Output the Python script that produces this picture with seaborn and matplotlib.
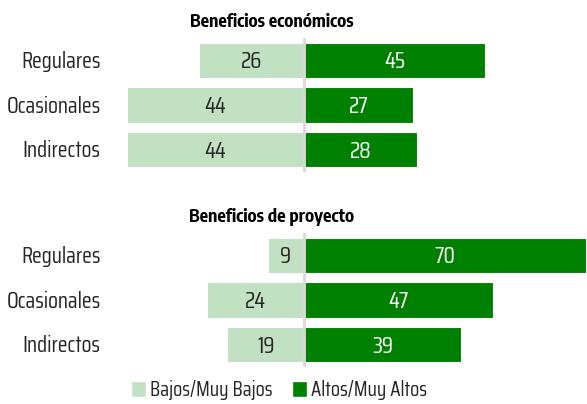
import os
import matplotlib
matplotlib.use("Agg")
import matplotlib.pyplot as plt
import matplotlib.font_manager as fm
import matplotlib.transforms as mtransforms
from matplotlib.textpath import TextPath
from matplotlib.patches import Patch
import seaborn as sns
import pandas as pd

categories = ["Regulares", "Ocasionales", "Indirectos"]
panel_titles = ["Beneficios económicos", "Beneficios de proyecto"]
series_names = ["Bajos/Muy Bajos", "Altos/Muy Altos"]
eco_low = [26, 44, 44]
eco_high = [45, 27, 28]
proj_low = [9, 24, 19]
proj_high = [70, 47, 39]

LIGHT = "#c2e0c2"
DARK = "#008000"

sns.set_theme(style="white")
plt.rcParams["font.family"] = ["DejaVu Sans"]


def is_condensed(f):
    b = os.path.basename(f.fname).lower()
    n = f.name.lower()
    return ("narrow" in n or "condensed" in n or "narrow" in b or "condensed" in b
            or str(f.stretch) in ("condensed", "semi-condensed", "extra-condensed"))


def wnum(w):
    try:
        return int(w)
    except Exception:
        return {"normal": 400, "regular": 400, "book": 400, "bold": 700}.get(str(w), 400)


def measure(fp, s):
    return TextPath((0, 0), s, size=1, prop=fp).get_extents().width


def cap(fp):
    return TextPath((0, 0), "H", size=1, prop=fp).get_extents().height


allf = [f for f in fm.fontManager.ttflist if f.style == "normal"
        and f.fname.lower().endswith((".ttf", ".otf"))]
cond = [f for f in allf if is_condensed(f)]


def pick(pool, text, ratio, wt):
    best = None
    for f in pool:
        try:
            fp = fm.FontProperties(fname=f.fname)
            r = measure(fp, text) / cap(fp)
        except Exception:
            continue
        score = abs(wnum(f.weight) - wt) / 100.0 * 1.5 + abs(r - ratio) / ratio * 4
        if best is None or score < best[0]:
            best = (score, f, fp)
    return best


b = pick([f for f in cond if 350 <= wnum(f.weight) <= 500], "Ocasionales", 92.0 / 15.5, 400)
if b is None:
    b = pick([f for f in allf if f.name == "DejaVu Sans"], "Ocasionales", 5.9, 400)
reg_fp = b[2]

bb = pick([f for f in cond if 600 <= wnum(f.weight) <= 800], "Beneficios económicos", 158.0 / 12.7, 700)
bold_fp = fm.FontProperties(family="DejaVu Sans", weight="bold") if bb is None else bb[2]


def blend_size(fp, text, width_px, cap_px, maxw=None):
    sw = width_px / measure(fp, text)
    sh = cap_px / cap(fp)
    s = (sw * sh) ** 0.5
    if maxw is not None:
        s = min(s, maxw / measure(fp, text))
    return s * 72 / 100.0


FS = blend_size(reg_fp, "Ocasionales", 92.0, 15.5, maxw=99.0)
NFS = blend_size(reg_fp, "70", 19.0, 16.0)
LFS = blend_size(reg_fp, "Bajos/Muy Bajos", 114.0, 15.0)
TFS = blend_size(bold_fp, "Beneficios económicos", 158.0, 13.5, maxw=172.0)


def tprops(bold=False, size=None):
    fp = (bold_fp if bold else reg_fp).copy()
    fp.set_size(size)
    return fp


NCAP_PX = cap(reg_fp) * NFS * 100 / 72.0
CAP_PX = cap(reg_fp) * FS * 100 / 72.0
TCAP_PX = cap(bold_fp) * TFS * 100 / 72.0

fig = plt.figure(figsize=(5.87, 4.04), dpi=100)
H = 404.0
axes = [fig.add_axes([0, 1 - 172 / H, 1, 134 / H]),
        fig.add_axes([0, 1 - 367 / H, 1, 134 / H])]
title_y = [20, 215]

panels = [(eco_low, eco_high), (proj_low, proj_high)]
for ax, title, ty, (low, high) in zip(axes, panel_titles, title_y, panels):
    df = pd.DataFrame({
        "cat": categories * 2,
        "val": [-v for v in low] + list(high),
        "series": [series_names[0]] * 3 + [series_names[1]] * 3,
    })
    sns.barplot(data=df, y="cat", x="val", hue="series", dodge=False,
                palette=[LIGHT, DARK], orient="h", width=0.79, ax=ax, saturation=1,
                edgecolor="white", linewidth=0.8, legend=False)
    ax.set_xlim(-304 / 4.03, 283 / 4.03)
    ax.set_ylim(2.5, -0.5)
    ax.axvline(0, color="#d9d9d9", lw=2, zorder=5)
    trn = mtransforms.offset_copy(ax.transData, fig=fig, y=-NCAP_PX / 2, units="dots")
    trl = mtransforms.offset_copy(ax.transData, fig=fig, y=-CAP_PX / 2, units="dots")
    for i, (lo, hi) in enumerate(zip(low, high)):
        ax.text(-lo / 2, i, str(lo), ha="center", va="baseline", color="#262626",
                fontproperties=tprops(size=NFS), transform=trn)
        ax.text(hi / 2, i, str(hi), ha="center", va="baseline", color="white",
                fontproperties=tprops(size=NFS), transform=trn)
        ax.text(-50.5, i, categories[i], ha="right", va="baseline", color="#262626",
                fontproperties=tprops(size=FS), transform=trl)
    fig.text(272 / 587, 1 - (ty + TCAP_PX / 2) / H, title, ha="center", va="baseline",
             color="black", fontproperties=tprops(bold=True, size=TFS))
    ax.set_xlabel("")
    ax.set_ylabel("")
    ax.set_xticks([])
    ax.set_yticks([])
    for s in ax.spines.values():
        s.set_visible(False)

handles = [Patch(facecolor=LIGHT, label=series_names[0]),
           Patch(facecolor=DARK, label=series_names[1])]
fig.legend(handles=handles, loc="center", bbox_to_anchor=(279 / 587, 1 - 390 / H), ncol=2,
           frameon=False, prop=tprops(size=LFS), handlelength=0.75, handleheight=0.85,
           handletextpad=0.2, columnspacing=0.9)

fig.savefig("out.png", dpi=100)
